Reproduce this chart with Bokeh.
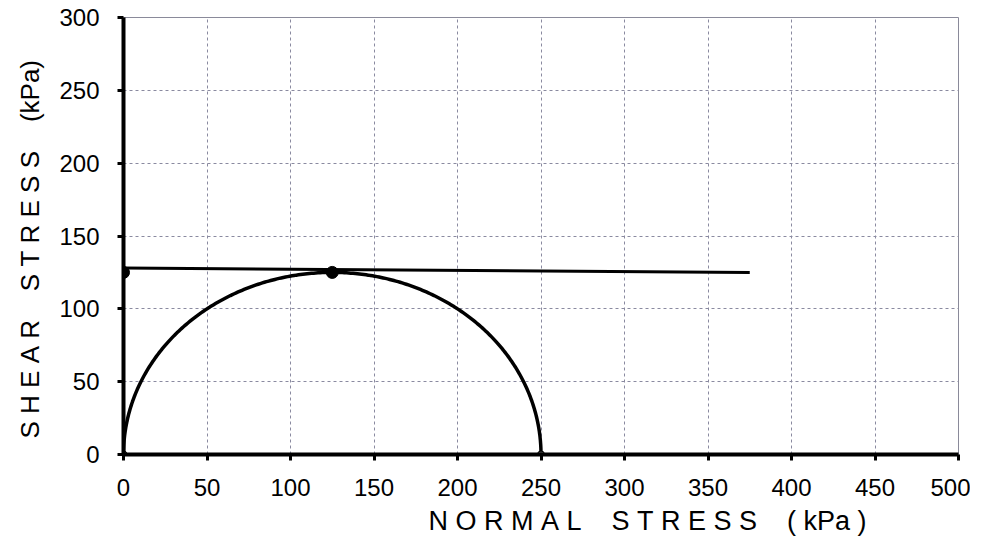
import numpy as np
from bokeh.plotting import figure
from bokeh.models import Range1d, FixedTicker, Title
from bokeh.embed import file_html
from bokeh.resources import INLINE

# Data
x_ticks = [0, 50, 100, 150, 200, 250, 300, 350, 400, 450, 500]
y_ticks = [0, 50, 100, 150, 200, 250, 300]
sigma_3 = 0.0      # minor principal stress
sigma_1 = 250.0    # major principal stress
envelope_x = [0, 375]
envelope_y = [128, 125]
point_x = [0, 125]
point_y = [125, 125]
end_x = [0, 250]
end_y = [0, 0]

center = (sigma_1 + sigma_3) / 2
radius = (sigma_1 - sigma_3) / 2
theta = np.linspace(np.pi, 0, 300)
circ_x = center + radius * np.cos(theta)
circ_y = radius * np.sin(theta)

NB = "\u00a0"


def spaced(words, inner=1, gap=4):
    return (NB * gap).join((NB * inner).join(w) if isinstance(w, str) else w[0] for w in words)


x_label_text = spaced(["NORMAL", "STRESS", ("(" + NB + "kPa" + NB + ")",)])
y_label_text = spaced(["SHEAR", "STRESS", ("(kPa)",)])

W, H = 970, 540
p = figure(width=W, height=H, output_backend="svg", toolbar_location=None,
           x_range=Range1d(0, 500), y_range=Range1d(0, 300),
           min_border_left=122, min_border_right=W - 958, min_border_top=17,
           min_border_bottom=H - 456)
p.background_fill_color = "white"
p.border_fill_color = "white"
p.outline_line_color = "#8a8a9a"
p.outline_line_width = 1

for ax in (p.xaxis[0], p.yaxis[0]):
    ax.axis_line_width = 4
    ax.axis_line_color = "black"
    ax.major_tick_line_width = 3
    ax.major_tick_line_color = "black"
    ax.major_tick_out = 6
    ax.major_tick_in = 0
    ax.minor_tick_line_color = None
    ax.major_label_text_font = "Liberation Sans"
    ax.major_label_text_font_size = "24px"
    ax.major_label_text_color = "black"
    ax.major_label_standoff = 18

p.xaxis.ticker = FixedTicker(ticks=x_ticks)
p.yaxis.ticker = FixedTicker(ticks=y_ticks)

p.xgrid.ticker = FixedTicker(ticks=x_ticks)
p.ygrid.ticker = FixedTicker(ticks=y_ticks)
p.grid.grid_line_color = "#8a8aa0"
p.grid.grid_line_dash = "3 3"
p.grid.grid_line_width = 1

p.line(circ_x, circ_y, line_color="black", line_width=3.5)
p.line(envelope_x, envelope_y, line_color="black", line_width=3)
p.scatter(point_x, point_y, size=12, color="black")
p.scatter(end_x, end_y, size=7, fill_color="#555555", line_color="black")

xt = Title(text=x_label_text, align="left", offset=305, standoff=10,
           text_font="Liberation Sans", text_font_size="27px",
           text_font_style="normal", text_color="black")
yt = Title(text=y_label_text, align="left", offset=16, standoff=24,
           text_font="Liberation Sans", text_font_size="26px",
           text_font_style="normal", text_color="black")
p.add_layout(xt, "below")
p.add_layout(yt, "left")

open("out.html", "w").write(file_html(p, INLINE))
